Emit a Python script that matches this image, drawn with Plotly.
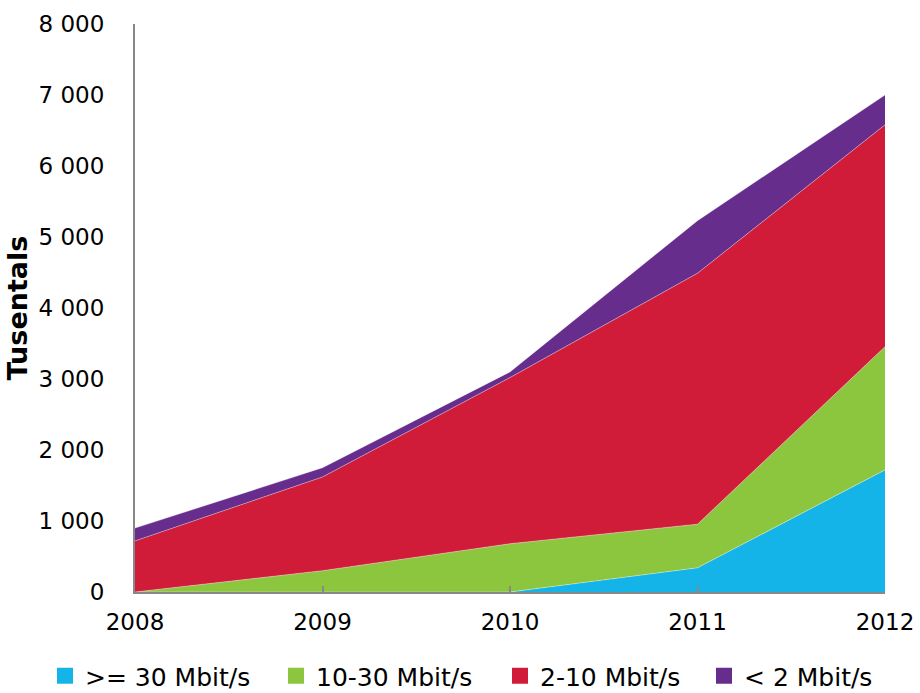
import plotly.graph_objects as go

# Broadband subscriptions by speed class (thousands)
years = [2008, 2009, 2010, 2011, 2012]
series_names = [">= 30 Mbit/s", "10-30 Mbit/s", "2-10 Mbit/s", "< 2 Mbit/s"]
over_30 = [0, 0, 0, 340, 1720]
from_10_to_30 = [0, 300, 680, 615, 1735]
from_2_to_10 = [720, 1320, 2340, 3535, 3125]
under_2 = [180, 130, 80, 740, 420]
colors = ["#14B4E9", "#8CC63F", "#D01C39", "#662D8C"]
y_ticks = [0, 1000, 2000, 3000, 4000, 5000, 6000, 7000, 8000]

font_family = "DejaVu Sans, Verdana, sans-serif"
W, H = 920, 693

# one single-entry legend per series, placed side by side under the chart
legend_ids = ["legend", "legend2", "legend3", "legend4"]
legend_left_px = [45, 276, 500, 704]

fig = go.Figure()
for name, vals, col, lid in zip(series_names,
                                [over_30, from_10_to_30, from_2_to_10, under_2],
                                colors, legend_ids):
    fig.add_trace(go.Scatter(
        x=years, y=vals, name=name, mode="lines",
        stackgroup="one", fillcolor=col,
        line=dict(width=0.6, color="rgba(255,255,255,0.6)"),
        showlegend=False, hoverinfo="x+y+name",
    ))
    # square swatch for the legend
    fig.add_trace(go.Scatter(
        x=[None], y=[None], name=name, mode="markers",
        marker=dict(symbol="square", size=17, color=col),
        showlegend=True, legend=lid,
    ))

legend_common = dict(
    orientation="h", xanchor="left",
    xref="container", yref="container", y=1 - 676 / H, yanchor="middle",
    font=dict(size=25), bgcolor="rgba(0,0,0,0)", itemsizing="trace",
)
legend_layout = {
    lid: dict(x=px / W, **legend_common)
    for lid, px in zip(legend_ids, legend_left_px)
}

fig.update_layout(
    width=W, height=H,
    margin=dict(l=135, r=35, t=24, b=101, autoexpand=False),
    paper_bgcolor="white", plot_bgcolor="white",
    separators=". ",
    font=dict(family=font_family, size=23, color="#000000"),
    showlegend=True,
    xaxis=dict(
        range=[2008, 2012], tickvals=years, ticktext=[str(y) for y in years],
        showgrid=False, zeroline=False,
        showline=True, linecolor="#888888", linewidth=2,
        ticks="inside", ticklen=6, tickcolor="#888888", tickwidth=2,
        ticklabelstandoff=8,
    ),
    yaxis=dict(
        range=[0, 8000], tickvals=y_ticks, tickformat=",d",
        showgrid=False, zeroline=False,
        showline=True, linecolor="#888888", linewidth=2,
        ticks="", ticklabelstandoff=24,
        title=dict(text="<b>Tusentals</b>", font=dict(size=27), standoff=3),
    ),
    **legend_layout,
)

fig.write_html("out.html")
